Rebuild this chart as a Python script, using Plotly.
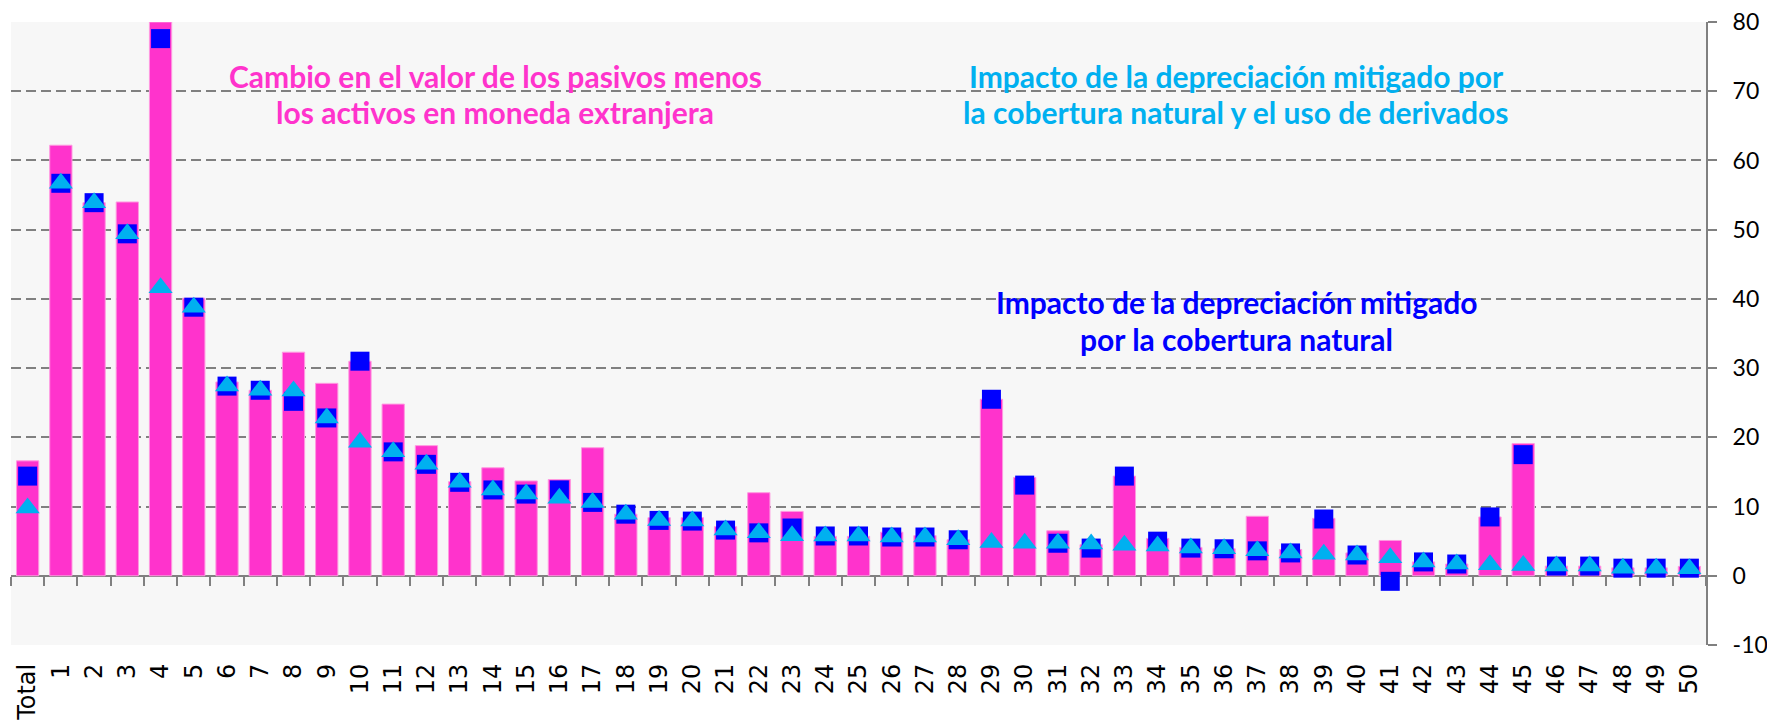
import plotly.graph_objects as go

categories = ["Total", "1", "2", "3", "4", "5", "6", "7", "8", "9", "10",
              "11", "12", "13", "14", "15", "16", "17", "18", "19", "20",
              "21", "22", "23", "24", "25", "26", "27", "28", "29", "30",
              "31", "32", "33", "34", "35", "36", "37", "38", "39", "40",
              "41", "42", "43", "44", "45", "46", "47", "48", "49", "50"]

# Cambio en el valor de los pasivos menos los activos en moneda extranjera
cambio_valor = [16.6, 62.2, 53.9, 54.0, 80.0, 40.1, 28.0, 26.8, 32.3, 27.8, 31.0,
                24.8, 18.8, 13.6, 15.6, 13.7, 13.9, 18.5, 8.9, 8.4, 8.4,
                7.1, 12.0, 9.3, 5.7, 5.7, 6.3, 5.8, 5.2, 25.5, 14.2,
                6.5, 4.5, 14.4, 5.4, 4.1, 3.9, 8.6, 3.8, 8.3, 3.3,
                5.1, 2.0, 1.7, 8.5, 19.1, 1.4, 1.4, 1.15, 1.15, 1.35]

# Impacto de la depreciación mitigado por la cobertura natural
cobertura_natural = [14.4, 56.7, 53.9, 49.4, 77.6, 38.8, 27.4, 26.8, 25.2, 22.8, 31.0,
                     17.9, 16.1, 13.5, 12.4, 11.8, 12.4, 10.6, 8.9, 8.0, 7.9,
                     6.6, 6.2, 6.9, 5.75, 5.75, 5.6, 5.6, 5.2, 25.5, 13.1,
                     4.7, 4.0, 14.4, 5.0, 4.0, 3.9, 3.6, 3.3, 8.2, 3.0,
                     -0.8, 2.0, 1.7, 8.5, 17.5, 1.4, 1.4, 1.1, 1.1, 1.1]

# Impacto de la depreciación mitigado por la cobertura natural y el uso de derivados
cobertura_derivados = [9.8, 56.7, 53.9, 49.4, 41.6, 38.8, 27.4, 26.8, 26.7, 22.8, 19.3,
                       17.9, 16.1, 13.5, 12.4, 11.8, 11.2, 10.6, 8.9, 8.0, 7.9,
                       6.6, 6.2, 5.8, 5.75, 5.75, 5.6, 5.6, 5.2, 4.8, 4.7,
                       4.7, 4.6, 4.4, 4.3, 4.0, 3.9, 3.6, 3.3, 3.1, 3.0,
                       2.6, 2.0, 1.7, 1.6, 1.5, 1.4, 1.4, 1.1, 1.1, 1.0]

y_ticks = [-10, 0, 10, 20, 30, 40, 50, 60, 70, 80]
y_tick_labels = ["-10", "0", "10", "20", "30", "40", "50", "60", "70", "80"]

label_cambio = ["Cambio en el valor de los pasivos menos",
                "los activos en moneda extranjera"]
label_derivados = ["Impacto de la depreciación mitigado por",
                   "la cobertura natural y el uso de derivados"]
label_natural = ["Impacto de la depreciación mitigado",
                 "por la cobertura natural"]

PINK = "#ff33cc"
CYAN = "#00b0f0"
BLUE = "#0000ff"
GRAY = "#808080"

fig = go.Figure()

fig.add_trace(go.Bar(
    x=categories, y=cambio_valor,
    marker=dict(color=PINK, line=dict(color="#ff99e0", width=1)),
    hoverinfo="x+y", showlegend=False,
))
fig.add_trace(go.Scatter(
    x=categories, y=cobertura_natural, mode="markers",
    marker=dict(symbol="square", size=19, color=BLUE, line=dict(width=0)),
    showlegend=False,
))
fig.add_trace(go.Scatter(
    x=categories, y=cobertura_derivados, mode="markers",
    marker=dict(symbol="triangle-up", size=21, color=CYAN, line=dict(width=0)),
    showlegend=False,
))
# invisible helper trace so the category axis at y=0 is drawn
fig.add_trace(go.Scatter(
    x=categories, y=cambio_valor, mode="markers", xaxis="x2", yaxis="y",
    marker=dict(opacity=0, size=1), hoverinfo="skip", showlegend=False,
))

ymin, ymax = y_ticks[0], y_ticks[-1]


def text_lines(lines, x, ys, color):
    return [dict(text="<b>%s</b>" % t, xref="paper", yref="paper", x=x, y=y,
                 xanchor="center", yanchor="middle", showarrow=False,
                 font=dict(family="Lato", size=30, color=color))
            for t, y in zip(lines, ys)]


annotations = (text_lines(label_cambio, 0.2858, [0.9140, 0.8550], PINK)
               + text_lines(label_derivados, 0.7228, [0.9140, 0.8550], CYAN)
               + text_lines(label_natural, 0.7228, [0.5500, 0.4910], BLUE))

# the page body adds an 8px offset; the figure is sized so the whole of it is visible
fig.update_layout(
    width=1767, height=716,
    margin=dict(l=3, r=69, t=14, b=79, autoexpand=False),
    paper_bgcolor="white",
    plot_bgcolor="#f7f7f7",
    bargap=0.33,
    xaxis=dict(
        type="category", range=[-0.5, len(categories) - 0.5],
        tickangle=-90, ticks="", showgrid=False, showline=False, zeroline=False,
        tickfont=dict(family="DejaVu Sans", size=24, color="black"),
        ticklabelstandoff=13, ticklabeloverflow="allow",
    ),
    xaxis2=dict(
        type="category", overlaying="x", anchor="free",
        position=(0 - ymin) / (ymax - ymin),
        range=[-0.5, len(categories) - 0.5],
        ticks="outside", ticklen=9, tickwidth=2, tickcolor=GRAY,
        tickson="boundaries", showticklabels=False, showgrid=False,
        showline=False, zeroline=False,
    ),
    yaxis=dict(
        side="right", range=[ymin, ymax],
        tickvals=y_ticks, ticktext=y_tick_labels,
        showgrid=True, gridcolor=GRAY, gridwidth=2, griddash="10px,5px",
        zeroline=True, zerolinecolor=GRAY, zerolinewidth=2,
        showline=True, linecolor=GRAY, linewidth=2,
        ticks="outside", ticklen=9, tickwidth=2, tickcolor=GRAY,
        tickfont=dict(family="Lato", size=23, color="black"),
        ticklabelstandoff=11, ticklabeloverflow="allow",
    ),
    annotations=annotations,
)

fig.write_html("out.html")
